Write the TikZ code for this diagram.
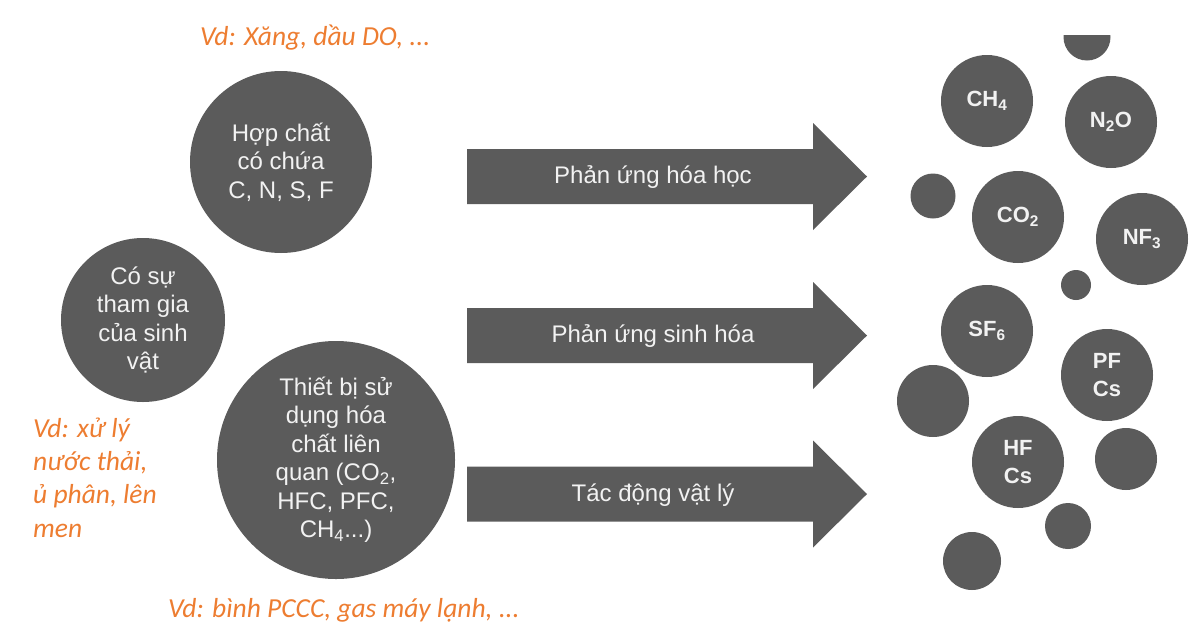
\documentclass[tikz,border=0pt]{standalone}
\usepackage{fontspec}
\setmainfont{Liberation Sans}
\newfontfamily\notefont{Carlito}
\definecolor{shade}{HTML}{5B5B5B}
\definecolor{notecol}{HTML}{ED7D31}
\definecolor{ink}{HTML}{F2F2F2}

\begin{document}
\begin{tikzpicture}[x=1pt,y=-1pt,
  blob/.style={circle,fill=shade,draw=none,inner sep=0pt,minimum size=#1},
  source/.style={blob=#1,text=ink,align=center,font=\fontsize{24}{28.5}\selectfont},
  gas/.style={blob=#1,text=ink,align=center,font=\bfseries\fontsize{22}{28}\selectfont},
  arrowbody/.style={fill=shade,draw=none},
  arrowlabel/.style={text=ink,inner sep=0pt,font=\fontsize{24}{28}\selectfont},
  note/.style={text=notecol,inner sep=0pt,align=left,font=\notefont\itshape\fontsize{27.5}{33.3}\selectfont}
]
\useasboundingbox (0,0) rectangle (1204,635);

% sources on the left
\node[source=182pt] (compound) at (281,162) {Hợp chất\\có chứa\\C, N, S, F};
\node[source=164pt] (biota) at (143,320) {Có sự\\tham gia\\của sinh\\vật};
\node[source=238pt] (devices) at (336,460) {Thiết bị sử\\dụng hóa\\chất liên\\quan (CO\textsubscript{2},\\HFC, PFC,\\CH\textsubscript{4}...)};

% example notes (multi-line base anchor sits on the last line)
\node[note,anchor=base west] (exfuel) at (200,45) {Vd: Xăng, dầu DO, ...};
\node[note,anchor=base west] (exbio) at (33,537) {Vd: xử lý\\nước thải,\\ủ phân, lên\\men};
\node[note,anchor=base west] (exdev) at (168,617) {Vd: bình PCCC, gas máy lạnh, ...};

% process arrows
\foreach \yy/\nm/\txt in {176.5/chem/Phản ứng hóa học, 335.5/bio/Phản ứng sinh hóa, 494/phys/Tác động vật lý}{
  \fill[arrowbody] (467,\yy-27.5) -- (813,\yy-27.5) -- (813,\yy-53.5) -- (867,\yy)
    -- (813,\yy+53.5) -- (813,\yy+27.5) -- (467,\yy+27.5) -- cycle;
  \node[arrowlabel] (\nm) at (653,\yy+1) {\txt};
}

% greenhouse gases
\node[gas=92pt] (ch4) at (987,101) {CH\textsubscript{4}};
\node[gas=92pt] (n2o) at (1111,122) {N\textsubscript{2}O};
\node[gas=92pt] (co2) at (1018,217) {CO\textsubscript{2}};
\node[gas=92pt] (nf3) at (1142,239) {NF\textsubscript{3}};
\node[gas=92pt] (sf6) at (987,331) {SF\textsubscript{6}};
\node[gas=92pt] (pfcs) at (1107,375) {PF\\Cs};
\node[gas=92pt] (hfcs) at (1018,462) {HF\\Cs};

% unlabelled particles
\begin{scope}
  \clip (1000,35) rectangle (1200,100);
  \node[blob=47pt] (p0) at (1087,37) {};
\end{scope}
\node[blob=45pt] (p1) at (933,196) {};
\node[blob=30pt] (p2) at (1076,285) {};
\node[blob=72pt] (p3) at (933,401) {};
\node[blob=62pt] (p4) at (1126,459) {};
\node[blob=46pt] (p5) at (1068,526) {};
\node[blob=58pt] (p6) at (972,561) {};
\end{tikzpicture}
\end{document}
